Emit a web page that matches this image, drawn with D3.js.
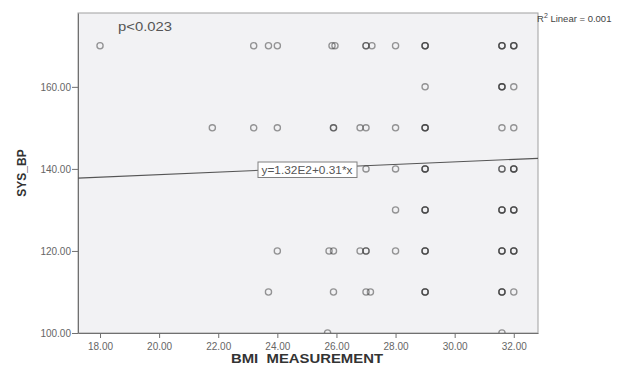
<!DOCTYPE html>
<html><head><meta charset="utf-8">
<script src="https://cdn.jsdelivr.net/npm/d3@7"></script>
<style>body{margin:0;background:#fff;}svg{display:block;font-family:"Liberation Sans",Arial,sans-serif;}</style>
</head><body>
<script>
// Data: BMI, systolic BP (duplicates represent overlapping subjects)
const bmi = [
  18.0,23.2,23.7,24.0,25.85,25.95,27.0,27.0,27.2,28.0,29.0,29.0,29.0,31.6,31.6,31.6,32.0,32.0,32.0,
  29.0,31.6,31.6,31.6,32.0,
  21.8,23.2,24.0,25.9,25.9,26.8,27.0,28.0,29.0,29.0,29.0,31.6,32.0,
  27.0,28.0,29.0,29.0,29.0,31.6,31.6,32.0,32.0,32.0,
  28.0,29.0,29.0,29.0,31.6,31.6,31.6,32.0,32.0,32.0,
  24.0,25.75,25.9,26.8,27.0,27.0,28.0,29.0,29.0,29.0,31.6,31.6,31.6,32.0,32.0,32.0,
  23.7,25.9,27.0,27.15,29.0,29.0,29.0,31.6,31.6,31.6,32.0,
  25.7,31.6
];
const sysBP = [
  170,170,170,170,170,170,170,170,170,170,170,170,170,170,170,170,170,170,170,
  160,160,160,160,160,
  150,150,150,150,150,150,150,150,150,150,150,150,150,
  140,140,140,140,140,140,140,140,140,140,
  130,130,130,130,130,130,130,130,130,130,
  120,120,120,120,120,120,120,120,120,120,120,120,120,120,120,120,
  110,110,110,110,110,110,110,110,110,110,110,
  100,100
];
const xTicks = [18,20,22,24,26,28,30,32];
const yTicks = [100,120,140,160];
const fitIntercept = 132.4, fitSlope = 0.31;
const fitLabel = "y=1.32E2+0.31*x";
const pLabel = "p<0.023";
const r2Value = "0.001";

const W = 623, H = 365;
const m = {l:78, r:538, t:13, b:333};
const svg = d3.select("body").append("svg").attr("width",W).attr("height",H);
const x = d3.scaleLinear().domain([17.255,32.82]).range([m.l,m.r]);
const y = d3.scaleLinear().domain([100,178]).range([m.b,m.t]);

svg.append("rect").attr("x",m.l).attr("y",m.t).attr("width",m.r-m.l).attr("height",m.b-m.t)
  .attr("fill","#f2f2f4").attr("stroke","#a0a0a0").attr("stroke-width",1);

svg.append("defs").append("clipPath").attr("id","clip").append("rect")
  .attr("x",m.l).attr("y",m.t).attr("width",m.r-m.l).attr("height",m.b-m.t);

// axes
const xAxis = svg.append("g").attr("transform",`translate(0,${m.b})`)
  .call(d3.axisBottom(x).tickValues(xTicks).tickFormat(d3.format(".2f")).tickSize(5).tickSizeOuter(0));
const yAxis = svg.append("g").attr("transform",`translate(${m.l},0)`)
  .call(d3.axisLeft(y).tickValues(yTicks).tickFormat(d3.format(".2f")).tickSize(6).tickSizeOuter(0));
[xAxis,yAxis].forEach(g=>{
  g.select(".domain").attr("stroke","#707070");
  g.selectAll(".tick line").attr("stroke","#707070");
  g.selectAll(".tick text").attr("fill","#666").style("font-size","10px");
});
xAxis.selectAll(".tick text").attr("dy",null).attr("y",17);
yAxis.selectAll(".tick text").attr("x",-7).attr("dy","0.35em");

// regression line
const xd = x.domain();
svg.append("line")
  .attr("x1",x(xd[0])).attr("y1",y(fitIntercept+fitSlope*xd[0]))
  .attr("x2",x(xd[1])).attr("y2",y(fitIntercept+fitSlope*xd[1]))
  .attr("stroke","#555").attr("stroke-width",1.1);

// points
svg.append("g").attr("clip-path","url(#clip)").selectAll("circle")
  .data(bmi.map((b,i)=>[b,sysBP[i]])).join("circle")
  .attr("cx",d=>x(d[0])).attr("cy",d=>y(d[1])).attr("r",3.1)
  .attr("fill","none").attr("stroke","#333").attr("stroke-opacity",0.5).attr("stroke-width",1.3);

// fit label box
const lb = svg.append("g");
lb.append("rect").attr("x",258).attr("y",162).attr("width",99).attr("height",15.5)
  .attr("fill","#fff").attr("stroke","#808080").attr("stroke-width",1);
lb.append("text").attr("x",261.5).attr("y",173.5).attr("fill","#555").style("font-size","10px")
  .attr("textLength",91).attr("lengthAdjust","spacingAndGlyphs").text(fitLabel);

// p label
svg.append("text").attr("x",118).attr("y",31).attr("fill","#555").style("font-size","12px")
  .attr("textLength",54).attr("lengthAdjust","spacingAndGlyphs").text(pLabel);

// R2 label
const r2 = svg.append("text").attr("x",537).attr("y",22).attr("fill","#444").style("font-size","9.5px");
r2.append("tspan").text("R");
r2.append("tspan").attr("dy",-4).style("font-size","7px").text("2");
r2.append("tspan").attr("dy",4).text(" Linear = " + r2Value);

// axis titles
svg.append("text").attr("x",231).attr("y",363).attr("fill","#333").style("font-size","12.5px")
  .style("font-weight","bold").style("white-space","pre")
  .attr("textLength",152).attr("lengthAdjust","spacingAndGlyphs").text("BMI  MEASUREMENT");
svg.append("text").attr("transform","translate(25.5,173) rotate(-90)").attr("text-anchor","middle")
  .attr("fill","#333").style("font-size","12px").style("font-weight","bold").text("SYS_BP");
</script>
</body></html>
